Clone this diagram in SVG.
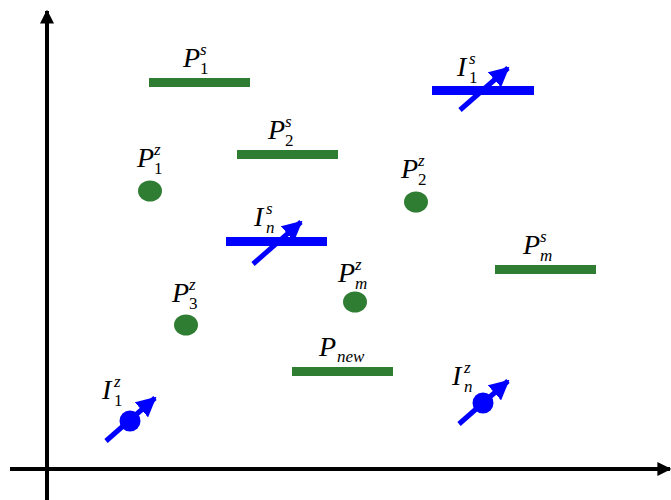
<svg xmlns="http://www.w3.org/2000/svg" width="671" height="500" viewBox="0 0 671 500">
<style>
.g{fill:#2e7d32;stroke:none}
.gbar{fill:#2e7d32}
.bbar{fill:#0000ff}
.m{font-family:"Liberation Serif","DejaVu Serif",serif;font-style:italic;font-size:28px;fill:#000}
.s{font-size:17px;font-style:italic}
.d{font-size:17px;font-style:normal}
.axis{stroke:#000;stroke-width:4;fill:none}
.barrow{stroke:#0000ff;stroke-width:5;fill:none}
</style>
<defs>
<marker id="ah" viewBox="0 0 10 10" refX="9" refY="5" markerWidth="14" markerHeight="14" markerUnits="userSpaceOnUse" orient="auto">
<path d="M0,0 L10,5 L0,10 Z" fill="#000"/>
</marker>
<marker id="bh" viewBox="0 0 10 10" refX="9" refY="5" markerWidth="20" markerHeight="20" markerUnits="userSpaceOnUse" orient="auto">
<path d="M0,0 L10,5 L0,10 Z" fill="#0000ff"/>
</marker>
</defs>
<rect width="671" height="500" fill="#fff"/>
<g id="connectors">
<line class="axis" x1="47" y1="500" x2="47" y2="11" marker-end="url(#ah)"/>
<line class="axis" x1="10" y1="469" x2="670" y2="469" marker-end="url(#ah)"/>
</g>
<g id="P1s">
<rect class="gbar" x="149" y="78" width="101" height="9"/>
<text class="m" x="183" y="67">P<tspan class="s" x="200" y="55">s</tspan><tspan class="d" x="200" y="74">1</tspan></text>
</g>
<g id="P2s">
<rect class="gbar" x="237" y="150" width="101" height="9"/>
<text class="m" x="268" y="139">P<tspan class="s" x="285" y="127">s</tspan><tspan class="d" x="285" y="146">2</tspan></text>
</g>
<g id="Pms">
<rect class="gbar" x="495" y="265" width="101" height="9"/>
<text class="m" x="523" y="254">P<tspan class="s" x="540" y="242">s</tspan><tspan class="s" x="540" y="261">m</tspan></text>
</g>
<g id="Pnew">
<rect class="gbar" x="292" y="367" width="101" height="9"/>
<text class="m" x="319" y="356">P<tspan class="s" x="337" y="362">new</tspan></text>
</g>
<g id="P1z">
<ellipse class="g" cx="150" cy="191" rx="12" ry="10.5"/>
<text class="m" x="137" y="167">P<tspan class="s" x="154" y="155">z</tspan><tspan class="d" x="154" y="174">1</tspan></text>
</g>
<g id="P2z">
<ellipse class="g" cx="416" cy="202" rx="12" ry="10.5"/>
<text class="m" x="401" y="178">P<tspan class="s" x="418" y="166">z</tspan><tspan class="d" x="418" y="185">2</tspan></text>
</g>
<g id="Pmz">
<ellipse class="g" cx="355" cy="302" rx="12" ry="10.5"/>
<text class="m" x="338" y="282">P<tspan class="s" x="355" y="270">z</tspan><tspan class="s" x="355" y="289">m</tspan></text>
</g>
<g id="P3z">
<ellipse class="g" cx="186" cy="325" rx="12" ry="10.5"/>
<text class="m" x="172" y="302">P<tspan class="s" x="189" y="290">z</tspan><tspan class="d" x="189" y="309">3</tspan></text>
</g>
<g id="I1s">
<rect class="bbar" x="432" y="86" width="102" height="9"/>
<line class="barrow" x1="460" y1="110" x2="508" y2="68" marker-end="url(#bh)"/>
<text class="m" x="457" y="76">I<tspan class="s" x="469" y="64">s</tspan><tspan class="d" x="469" y="83">1</tspan></text>
</g>
<g id="Ins">
<rect class="bbar" x="226" y="237" width="101" height="9"/>
<line class="barrow" x1="253" y1="264" x2="301" y2="222" marker-end="url(#bh)"/>
<text class="m" x="254" y="226">I<tspan class="s" x="266" y="214">s</tspan><tspan class="s" x="266" y="233">n</tspan></text>
</g>
<g id="I1z">
<line class="barrow" x1="106" y1="441" x2="155" y2="398" marker-end="url(#bh)"/>
<circle cx="130" cy="421" r="10.5" fill="#0000ff"/>
<text class="m" x="102" y="399">I<tspan class="s" x="114" y="387">z</tspan><tspan class="d" x="114" y="406">1</tspan></text>
</g>
<g id="Inz">
<line class="barrow" x1="459" y1="424" x2="508" y2="381" marker-end="url(#bh)"/>
<circle cx="483" cy="403" r="10.5" fill="#0000ff"/>
<text class="m" x="452" y="385">I<tspan class="s" x="464" y="373">z</tspan><tspan class="s" x="464" y="392">n</tspan></text>
</g>
</svg>
